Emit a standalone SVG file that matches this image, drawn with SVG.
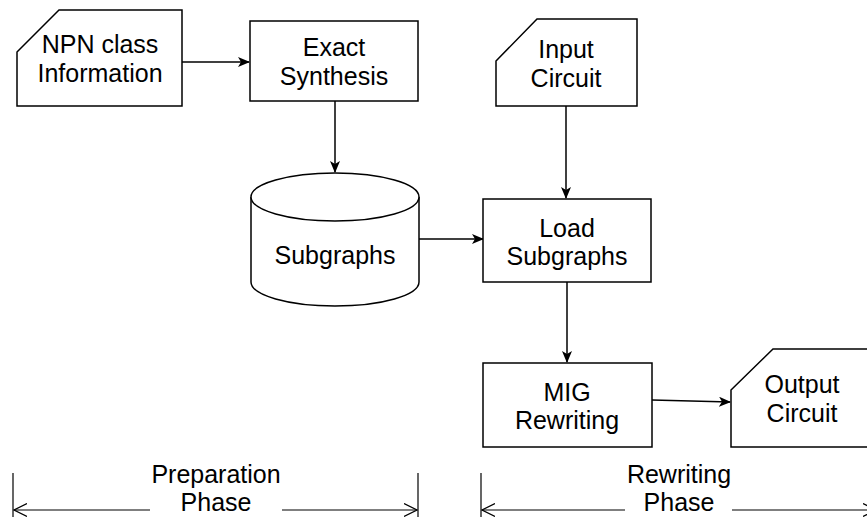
<svg xmlns="http://www.w3.org/2000/svg" width="867" height="517" viewBox="0 0 867 517">
  <style>
    .shape { fill: #ffffff; stroke: #000000; stroke-width: 1.5; }
    .edge { fill: none; stroke: #000000; stroke-width: 1.5; }
    .dim { fill: none; stroke: #000000; stroke-width: 1.2; }
    text { font-family: "Liberation Sans", Arial, sans-serif; font-size: 25px; fill: #000000; text-anchor: middle; }
  </style>
  <defs>
    <marker id="arrow" viewBox="0 0 12 10" refX="11" refY="5" markerWidth="12" markerHeight="10" markerUnits="userSpaceOnUse" orient="auto">
      <path d="M0,0 L12,5 L0,10 L3,5 Z" fill="#000000"/>
    </marker>
    <marker id="open" viewBox="0 0 14 14" refX="13" refY="7" markerWidth="14" markerHeight="14" markerUnits="userSpaceOnUse" orient="auto">
      <path d="M0,0.5 L13,7 L0,13.5" fill="none" stroke="#000000" stroke-width="1.2"/>
    </marker>
  </defs>
  <rect width="867" height="517" fill="#ffffff"/>

  <g id="connectors">
    <line class="edge" x1="182" y1="62" x2="249" y2="62" marker-end="url(#arrow)"/>
    <line class="edge" x1="335" y1="101" x2="335" y2="172" marker-end="url(#arrow)"/>
    <line class="edge" x1="419" y1="239" x2="483" y2="239" marker-end="url(#arrow)"/>
    <line class="edge" x1="566" y1="106" x2="566" y2="198" marker-end="url(#arrow)"/>
    <line class="edge" x1="567" y1="282" x2="567" y2="362" marker-end="url(#arrow)"/>
    <line class="edge" x1="652" y1="400" x2="730" y2="402" marker-end="url(#arrow)"/>
  </g>

  <g id="npn-class-information">
    <path class="shape" d="M17,52 L59,10 L182,10 L182,106 L17,106 Z"/>
    <text x="100" y="53">NPN class</text>
    <text x="100" y="82">Information</text>
  </g>

  <g id="exact-synthesis">
    <rect class="shape" x="250" y="21" width="168" height="80"/>
    <text x="334" y="56">Exact</text>
    <text x="334" y="85">Synthesis</text>
  </g>

  <g id="subgraphs">
    <path class="shape" d="M251,197 A84,24 0 0 1 419,197 L419,282 A84,24 0 0 1 251,282 Z"/>
    <path class="shape" fill="none" d="M251,197 A84,24 0 0 0 419,197"/>
    <text x="335" y="264">Subgraphs</text>
  </g>

  <g id="input-circuit">
    <path class="shape" d="M496,61 L537,19 L637,19 L637,106 L496,106 Z"/>
    <text x="566" y="58">Input</text>
    <text x="566" y="87">Circuit</text>
  </g>

  <g id="load-subgraphs">
    <rect class="shape" x="483" y="199" width="168" height="83"/>
    <text x="567" y="237">Load</text>
    <text x="567" y="265">Subgraphs</text>
  </g>

  <g id="mig-rewriting">
    <rect class="shape" x="483" y="363" width="169" height="84"/>
    <text x="567" y="401">MIG</text>
    <text x="567" y="429">Rewriting</text>
  </g>

  <g id="output-circuit">
    <path class="shape" d="M731,390 L773,349 L874,349 L874,447 L731,447 Z"/>
    <text x="802" y="393">Output</text>
    <text x="802" y="422">Circuit</text>
  </g>

  <g id="preparation-phase">
    <line class="dim" x1="13" y1="473" x2="13" y2="517"/>
    <line class="dim" x1="418" y1="473" x2="418" y2="517"/>
    <line class="dim" x1="150" y1="510" x2="14" y2="510" marker-end="url(#open)"/>
    <line class="dim" x1="282" y1="510" x2="417" y2="510" marker-end="url(#open)"/>
    <text x="216" y="483">Preparation</text>
    <text x="216" y="511">Phase</text>
  </g>

  <g id="rewriting-phase">
    <line class="dim" x1="481" y1="473" x2="481" y2="517"/>
    <line class="dim" x1="625" y1="510" x2="482" y2="510" marker-end="url(#open)"/>
    <line class="dim" x1="732" y1="510" x2="876" y2="510" marker-end="url(#open)"/>
    <text x="679" y="483">Rewriting</text>
    <text x="679" y="511">Phase</text>
  </g>
</svg>
